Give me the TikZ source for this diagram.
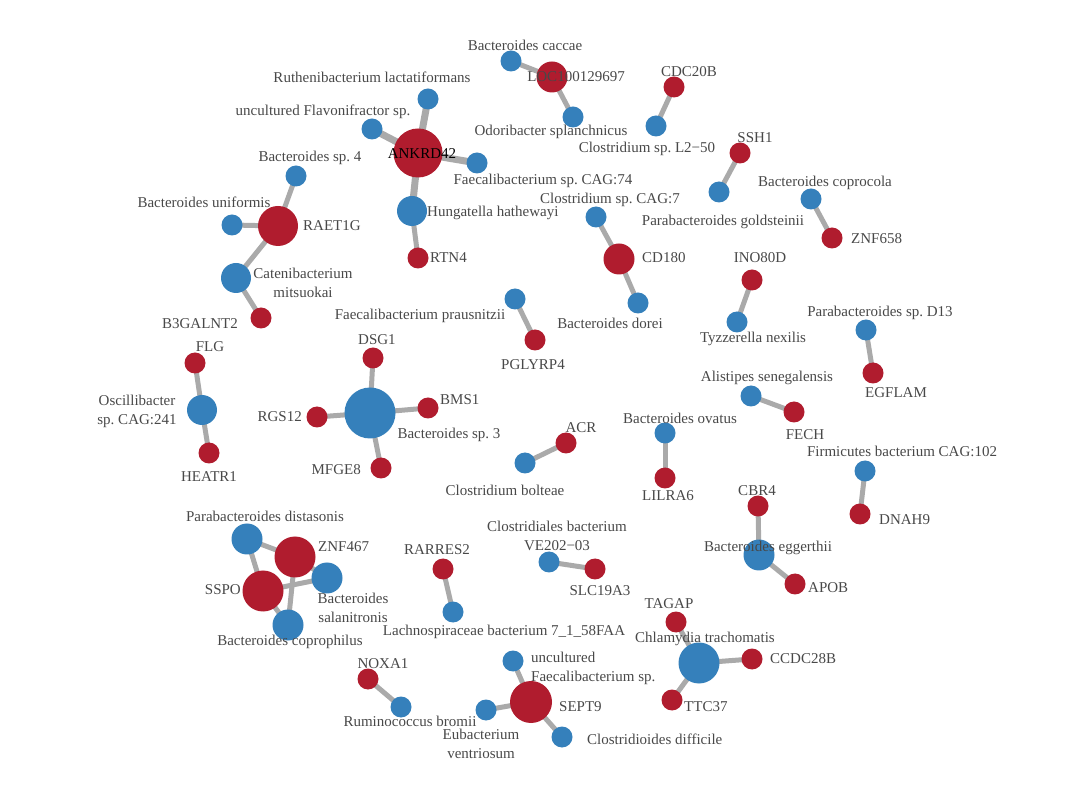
\documentclass[tikz,border=0pt]{standalone}
\usepackage{fontspec}
\setmainfont{Liberation Serif}
\usetikzlibrary{backgrounds}
\frenchspacing
\definecolor{gred}{RGB}{176,28,46}
\definecolor{bblue}{RGB}{53,128,187}
\definecolor{egray}{RGB}{170,170,170}
\definecolor{labc}{RGB}{72,72,72}
\tikzset{
  gene/.style={circle, fill=gred, inner sep=0pt, minimum size=#1},
  gene/.default=21pt,
  bact/.style={circle, fill=bblue, inner sep=0pt, minimum size=#1},
  bact/.default=21pt,
  link/.style={draw=egray, line width=5pt},
  thicklink/.style={draw=egray, line width=7pt},
  lab/.style={text=labc, font=\fontsize{15}{19}\selectfont\frenchspacing, inner sep=0pt},
  lab2/.style={lab, align=center},
}
\begin{document}
\begin{tikzpicture}[x=1pt,y=-1pt]
\useasboundingbox (0,0) rectangle (1080,791);

% ---------- nodes ----------
% component ANKRD42
\node[gene=49pt] (ankrd) at (418,153) {};
\node[bact] (ruth) at (428,99) {};
\node[bact] (flavo) at (372,129) {};
\node[bact] (fcag74) at (477,163) {};
\node[bact=30pt] (hung) at (412,211) {};
\node[gene] (rtn4) at (418,258) {};
% RAET1G
\node[gene=40pt] (raet) at (278,226) {};
\node[bact] (bsp4) at (296,176) {};
\node[bact] (bunif) at (232,225) {};
\node[bact=30pt] (cateni) at (236,278) {};
\node[gene] (b3gal) at (261,318) {};
% LOC100129697
\node[gene=31pt] (loc) at (552,77) {};
\node[bact] (caccae) at (511,61) {};
\node[bact] (odori) at (573,117) {};
% pairs
\node[gene] (cdc20b) at (674,87) {};
\node[bact] (l250) at (656,126) {};
\node[gene] (ssh1) at (740,153) {};
\node[bact] (golds) at (719,192) {};
\node[bact] (coproc) at (811,199) {};
\node[gene] (znf658) at (832,238) {};
% CD180
\node[gene=31pt] (cd180) at (619,259) {};
\node[bact] (cag7) at (596,217) {};
\node[bact] (dorei) at (638,303) {};
\node[gene] (ino80d) at (752,280) {};
\node[bact] (tyzz) at (737,322) {};
\node[bact] (praus) at (515,299) {};
\node[gene] (pglyrp4) at (535,340) {};
\node[bact] (d13) at (866,330) {};
\node[gene] (egflam) at (873,373) {};
\node[bact] (alist) at (751,396) {};
\node[gene] (fech) at (794,412) {};
% Oscillibacter
\node[bact=30pt] (osc) at (202,410) {};
\node[gene] (flg) at (195,363) {};
\node[gene] (heatr1) at (209,453) {};
% Bacteroides sp. 3
\node[bact=51pt] (bsp3) at (370,413) {};
\node[gene] (dsg1) at (373,358) {};
\node[gene] (bms1) at (428,408) {};
\node[gene] (rgs12) at (317,417) {};
\node[gene] (mfge8) at (381,468) {};
% more pairs
\node[bact] (bolteae) at (525,463) {};
\node[gene] (acr) at (566,443) {};
\node[bact] (ovatus) at (665,433) {};
\node[gene] (lilra6) at (665,478) {};
\node[bact] (firm) at (865,471) {};
\node[gene] (dnah9) at (860,514) {};
% eggerthii
\node[bact=31pt] (egger) at (759,555) {};
\node[gene] (cbr4) at (758,506) {};
\node[gene] (apob) at (795,584) {};
% cluster ZNF467 / SSPO
\node[bact=31pt] (dist) at (247,539) {};
\node[bact=31pt] (salan) at (327,578) {};
\node[bact=31pt] (coproph) at (288,625) {};
\node[gene=41pt] (znf467) at (295,557) {};
\node[gene=41pt] (sspo) at (263,591) {};
% RARRES2
\node[gene] (rarres2) at (443,569) {};
\node[bact] (lachno) at (453,612) {};
\node[bact] (clostr) at (549,562) {};
\node[gene] (slc19a3) at (595,569) {};
% Chlamydia
\node[bact=41pt] (chlam) at (699,663) {};
\node[gene] (tagap) at (676,622) {};
\node[gene] (ccdc28b) at (752,659) {};
\node[gene] (ttc37) at (672,700) {};
% NOXA1
\node[gene] (noxa1) at (368,679) {};
\node[bact] (rumino) at (401,707) {};
% SEPT9
\node[gene=42pt] (sept9) at (531,702) {};
\node[bact] (uncfaec) at (513,661) {};
\node[bact] (eubact) at (486,710) {};
\node[bact] (cdiff) at (562,737) {};

% ---------- edges ----------
\begin{scope}[on background layer]
\draw[thicklink] (ankrd.center) -- (ruth.center);
\draw[thicklink] (ankrd.center) -- (flavo.center);
\draw[thicklink] (ankrd.center) -- (fcag74.center);
\draw[thicklink] (ankrd.center) -- (hung.center);
\draw[link] (hung.center) -- (rtn4.center);
\draw[link] (raet.center) -- (bsp4.center);
\draw[link] (raet.center) -- (bunif.center);
\draw[link] (raet.center) -- (cateni.center);
\draw[link] (cateni.center) -- (b3gal.center);
\draw[link] (loc.center) -- (caccae.center);
\draw[link] (loc.center) -- (odori.center);
\draw[link] (cdc20b.center) -- (l250.center);
\draw[link] (ssh1.center) -- (golds.center);
\draw[link] (coproc.center) -- (znf658.center);
\draw[link] (cd180.center) -- (cag7.center);
\draw[link] (cd180.center) -- (dorei.center);
\draw[link] (ino80d.center) -- (tyzz.center);
\draw[link] (praus.center) -- (pglyrp4.center);
\draw[link] (d13.center) -- (egflam.center);
\draw[link] (alist.center) -- (fech.center);
\draw[link] (osc.center) -- (flg.center);
\draw[link] (osc.center) -- (heatr1.center);
\draw[link] (bsp3.center) -- (dsg1.center);
\draw[link] (bsp3.center) -- (bms1.center);
\draw[link] (bsp3.center) -- (rgs12.center);
\draw[link] (bsp3.center) -- (mfge8.center);
\draw[link] (bolteae.center) -- (acr.center);
\draw[link] (ovatus.center) -- (lilra6.center);
\draw[link] (firm.center) -- (dnah9.center);
\draw[link] (egger.center) -- (cbr4.center);
\draw[link] (egger.center) -- (apob.center);
\draw[link] (znf467.center) -- (dist.center);
\draw[link] (znf467.center) -- (salan.center);
\draw[link] (znf467.center) -- (coproph.center);
\draw[link] (sspo.center) -- (dist.center);
\draw[link] (sspo.center) -- (salan.center);
\draw[link] (sspo.center) -- (coproph.center);
\draw[link] (rarres2.center) -- (lachno.center);
\draw[link] (clostr.center) -- (slc19a3.center);
\draw[link] (chlam.center) -- (tagap.center);
\draw[link] (chlam.center) -- (ccdc28b.center);
\draw[link] (chlam.center) -- (ttc37.center);
\draw[link] (noxa1.center) -- (rumino.center);
\draw[link] (sept9.center) -- (uncfaec.center);
\draw[link] (sept9.center) -- (eubact.center);
\draw[link] (sept9.center) -- (cdiff.center);
\end{scope}

% ---------- labels ----------
\node[lab] (t-ruth) at (372,77) {Ruthenibacterium lactatiformans};
\node[lab] (t-flavo) at (323,112) {uncultured Flavonifractor sp.};
\node[lab, text=black] (t-ankrd) at (422,154) {ANKRD42};
\node[lab] (t-fcag74) at (543,181) {Faecalibacterium sp. CAG:74};
\node[lab, anchor=west] (t-hung) at (427,213) {Hungatella hathewayi};
\node[lab, anchor=west] (t-rtn4) at (430,258) {RTN4};
\node[lab] (t-bsp4) at (310,158) {Bacteroides sp. 4};
\node[lab] (t-bunif) at (204,202) {Bacteroides uniformis};
\node[lab, anchor=west] (t-raet) at (303,226) {RAET1G};
\node[lab2] (t-cateni) at (303,283) {Catenibacterium\\mitsuokai};
\node[lab] (t-b3gal) at (200,324) {B3GALNT2};
\node[lab] (t-caccae) at (525,45) {Bacteroides caccae};
\node[lab] (t-loc) at (576,77) {LOC100129697};
\node[lab] (t-odori) at (551,132) {Odoribacter splanchnicus};
\node[lab] (t-cdc20b) at (689,72) {CDC20B};
\node[lab] (t-l250) at (647,149) {Clostridium sp. L2−50};
\node[lab] (t-ssh1) at (755,138) {SSH1};
\node[lab] (t-golds) at (723,222) {Parabacteroides goldsteinii};
\node[lab] (t-coproc) at (825,183) {Bacteroides coprocola};
\node[lab, anchor=west] (t-znf658) at (851,239) {ZNF658};
\node[lab] (t-cag7) at (610,200) {Clostridium sp. CAG:7};
\node[lab, anchor=west] (t-cd180) at (642,258) {CD180};
\node[lab] (t-ino80d) at (760,258) {INO80D};
\node[lab] (t-praus) at (420,316) {Faecalibacterium prausnitzii};
\node[lab] (t-pglyrp4) at (533,365) {PGLYRP4};
\node[lab] (t-dorei) at (610,323) {Bacteroides dorei};
\node[lab] (t-tyzz) at (753,339) {Tyzzerella nexilis};
\node[lab] (t-d13) at (880,313) {Parabacteroides sp. D13};
\node[lab] (t-egflam) at (896,393) {EGFLAM};
\node[lab] (t-alist) at (767,378) {Alistipes senegalensis};
\node[lab] (t-fech) at (805,435) {FECH};
\node[lab] (t-flg) at (210,347) {FLG};
\node[lab2] (t-osc) at (137,411) {Oscillibacter\\sp. CAG:241};
\node[lab] (t-heatr1) at (209,477) {HEATR1};
\node[lab] (t-dsg1) at (377,340) {DSG1};
\node[lab, anchor=west] (t-bms1) at (440,400) {BMS1};
\node[lab, anchor=east] (t-rgs12) at (302,417) {RGS12};
\node[lab, anchor=east] (t-mfge8) at (361,470) {MFGE8};
\node[lab] (t-bsp3) at (449,435) {Bacteroides sp. 3};
\node[lab] (t-acr) at (581,428) {ACR};
\node[lab] (t-bolteae) at (505,490) {Clostridium bolteae};
\node[lab] (t-ovatus) at (680,418) {Bacteroides ovatus};
\node[lab] (t-lilra6) at (668,496) {LILRA6};
\node[lab] (t-firm) at (902,451) {Firmicutes bacterium CAG:102};
\node[lab] (t-cbr4) at (757,491) {CBR4};
\node[lab, anchor=west] (t-dnah9) at (879,520) {DNAH9};
\node[lab] (t-egger) at (768,548) {Bacteroides eggerthii};
\node[lab, anchor=west] (t-apob) at (808,588) {APOB};
\node[lab] (t-dist) at (265,516) {Parabacteroides distasonis};
\node[lab, anchor=west] (t-znf467) at (318,547) {ZNF467};
\node[lab, anchor=east] (t-sspo) at (241,590) {SSPO};
\node[lab2] (t-salan) at (353,608) {Bacteroides\\salanitronis};
\node[lab] (t-coproph) at (290,642) {Bacteroides coprophilus};
\node[lab] (t-rarres2) at (437,550) {RARRES2};
\node[lab] (t-lachno) at (504,632) {Lachnospiraceae bacterium 7\_1\_58FAA};
\node[lab2] (t-clostr) at (557,536) {Clostridiales bacterium\\VE202−03};
\node[lab] (t-slc19a3) at (600,591) {SLC19A3};
\node[lab] (t-tagap) at (669,604) {TAGAP};
\node[lab] (t-chlam) at (705,639) {Chlamydia trachomatis};
\node[lab, anchor=west] (t-ccdc28b) at (770,659) {CCDC28B};
\node[lab, anchor=west] (t-ttc37) at (684,707) {TTC37};
\node[lab] (t-noxa1) at (383,664) {NOXA1};
\node[lab] (t-rumino) at (410,721) {Ruminococcus bromii};
\node[lab2] (t-eubact) at (481,744) {Eubacterium\\ventriosum};
\node[lab, align=left, anchor=west] (t-uncfaec) at (531,668) {uncultured\\Faecalibacterium sp.};
\node[lab, anchor=west] (t-sept9) at (559,707) {SEPT9};
\node[lab, anchor=west] (t-cdiff) at (587,739) {Clostridioides difficile};
\end{tikzpicture}
\end{document}
